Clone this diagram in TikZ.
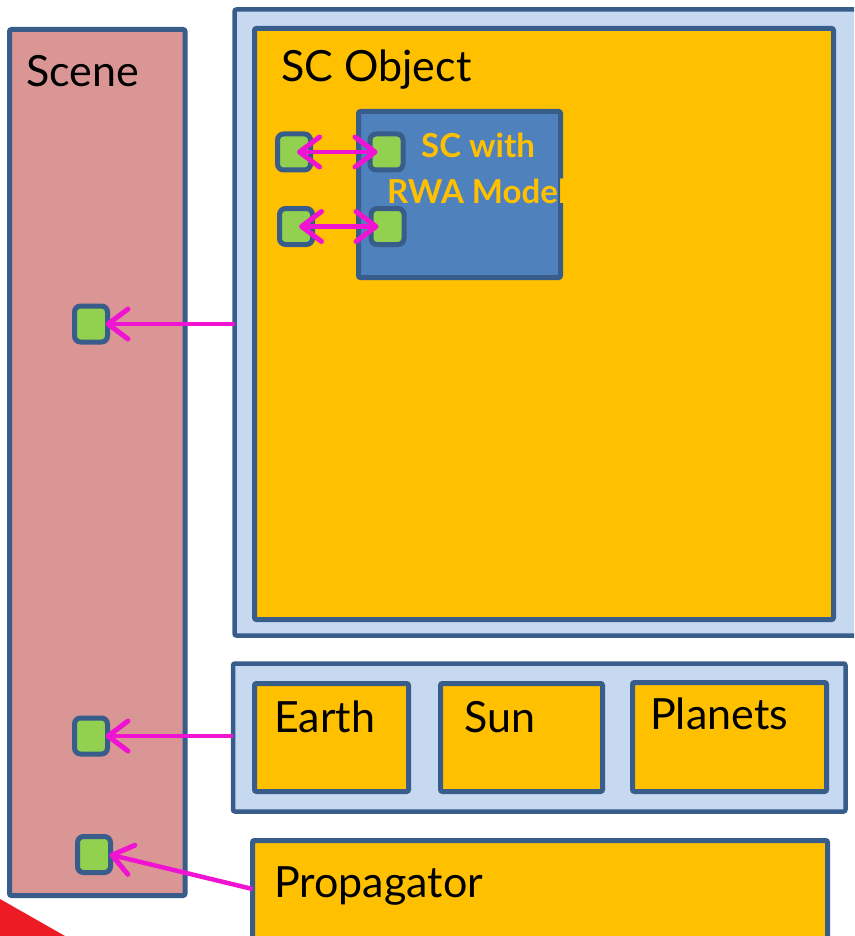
\documentclass[tikz,border=0pt]{standalone}
\usepackage{fontspec}
\setmainfont{Lato}
\usetikzlibrary{arrows.meta}

\definecolor{edgeblue}{HTML}{385D8A}
\definecolor{scenepink}{HTML}{D99694}
\definecolor{paleblue}{HTML}{C6D9F1}
\definecolor{amber}{HTML}{FFC000}
\definecolor{modelblue}{HTML}{4F81BD}
\definecolor{portgreen}{HTML}{92D050}
\definecolor{linkpink}{RGB}{240,20,210}
\definecolor{cornerred}{HTML}{ED1C24}

\tikzset{
  box/.style={draw=edgeblue, line width=5pt, rounded corners=2pt,
    inner sep=0pt, outer sep=0pt, anchor=north west},
  panel/.style={box, fill=paleblue, line width=4.5pt},
  block/.style={box, fill=amber},
  port/.style={draw=edgeblue, fill=portgreen, line width=5pt,
    rounded corners=6pt, minimum width=33pt, minimum height=36pt,
    inner sep=0pt, outer sep=0pt},
  lbl/.style={font=\fontsize{43}{47}\selectfont, text=black,
    inner sep=0pt, anchor=base west},
  modellbl/.style={font=\fontsize{33}{36}\selectfont\bfseries, text=amber,
    inner sep=0pt},
  barb/.tip={Straight Barb[length=20pt,width=30pt,line width=5pt,round]},
  link/.style={draw=linkpink, line width=4.5pt, -barb},
  duplex/.style={draw=linkpink, line width=4.5pt, barb-barb},
}

\begin{document}
\begin{tikzpicture}[x=1pt,y=-1pt]
\useasboundingbox (0,0) rectangle (854,936);
\clip (0,0) rectangle (854,936);

% scene column
\node[box, fill=scenepink, minimum width=175.5pt, minimum height=866pt] (scene) at (9.5,29.5) {};
\node[lbl] (tscene) at (26,87) {Scene};

% spacecraft object
\node[panel, minimum width=640pt, minimum height=626pt] (simbox) at (234.5,9.5) {};
\node[block, minimum width=579pt, minimum height=591pt] (scobj) at (254.5,28.5) {};
\node[lbl] (tscobj) at (281,82) {SC Object};

\node[box, fill=modelblue, minimum width=202pt, minimum height=166pt] (rwa) at (358.5,111.5) {};
\begin{scope}
  \clip (356,109) rectangle (563,280);
  \node[modellbl, anchor=base] (trwa1) at (478,158) {SC with};
  \node[modellbl, anchor=base west] (trwa2) at (387,203) {RWA Model};
\end{scope}

% ports of the spacecraft model
\node[port] (g1) at (294,152) {};
\node[port] (g2) at (386.5,152) {};
\node[port] (g3) at (296,226.5) {};
\node[port] (g4) at (387.5,226.5) {};

% celestial bodies
\node[panel, minimum width=612.5pt, minimum height=148pt] (bodies) at (233,663.5) {};
\node[block, minimum width=154pt, minimum height=108pt] (earth) at (254.5,683.5) {};
\node[block, minimum width=162pt, minimum height=108pt] (sun) at (440.5,683.5) {};
\node[block, minimum width=194pt, minimum height=109pt] (planets) at (632.5,682.5) {};
\node[lbl] (tearth) at (274,732) {Earth};
\node[lbl] (tsun) at (464,732) {Sun};
\node[lbl] (tplanets) at (650,729) {Planets};

% propagator
\node[block, minimum width=575pt, minimum height=150pt] (prop) at (252.5,840.5) {};
\node[lbl] (tprop) at (274,897) {Propagator};

% scene ports
\node[port] (s1) at (91,324) {};
\node[port] (s2) at (91,736) {};
\node[port] (s3) at (94,854.5) {};

% connections
\draw[duplex, shorten <=3pt, shorten >=9pt] (g1.center) -- (g2.center);
\draw[duplex, shorten <=3pt, shorten >=9pt] (g3.center) -- (g4.center);
\coordinate (c1) at (simbox.west |- s1.east);
\coordinate (c2) at (bodies.west |- s2.east);
\coordinate (c3) at (252.5,889);
\draw[link] (c1) -- ([xshift=-2pt]s1.east);
\draw[link] (c2) -- ([xshift=-2pt]s2.east);
\draw[link] (c3) -- ([xshift=-1pt]s3.east);

% corner accent
\fill[cornerred] (0,899) -- (65,936) -- (0,936) -- cycle;
\end{tikzpicture}
\end{document}
